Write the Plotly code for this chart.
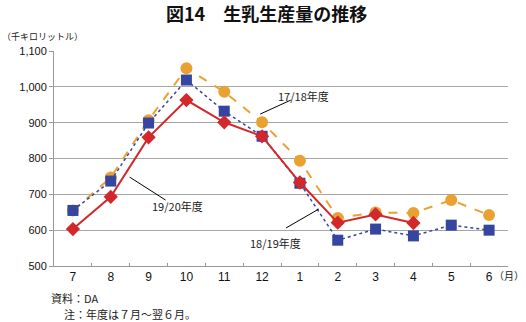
import plotly.graph_objects as go

months = ["7", "8", "9", "10", "11", "12", "1", "2", "3", "4", "5", "6"]
fy_17_18 = [655, 747, 907, 1052, 986, 901, 794, 634, 649, 648, 684, 642]
fy_18_19 = [655, 737, 899, 1019, 932, 862, 731, 572, 603, 584, 614, 600]
fy_19_20 = [603, 693, 859, 963, 901, 862, 733, 621, 644, 620]

FONT = "Noto Sans CJK JP"
NUM_FONT = "Liberation Sans"
ORANGE = "#E9A232"
BLUE = "#3545A0"
RED = "#D2282B"

fig = go.Figure()
fig.add_trace(go.Scatter(
    x=months, y=fy_17_18, mode="lines+markers", name="17/18年度",
    line=dict(color=ORANGE, width=2, dash="dash"),
    marker=dict(symbol="circle", size=12, color=ORANGE),
))
fig.add_trace(go.Scatter(
    x=months, y=fy_18_19, mode="lines+markers", name="18/19年度",
    line=dict(color=BLUE, width=1.5, dash="dot"),
    marker=dict(symbol="square", size=11, color=BLUE),
))
fig.add_trace(go.Scatter(
    x=months[:len(fy_19_20)], y=fy_19_20, mode="lines+markers", name="19/20年度",
    line=dict(color=RED, width=2),
    marker=dict(symbol="diamond", size=11, color=RED),
))

# leader lines from series labels to their lines
leaders = [
    (4.95, 924, 5.76, 963),
    (1.50, 748, 2.45, 684),
    (5.63, 606, 6.50, 659),
]
for x0, y0, x1, y1 in leaders:
    fig.add_shape(type="line", xref="x", yref="y", x0=x0, y0=y0, x1=x1, y1=y1,
                  line=dict(color="black", width=1))

labels = [
    ("17/18年度", 5.37, 974),
    ("19/20年度", 2.03, 667),
    ("18/19年度", 4.63, 564),
]
annotations = [
    dict(text=t, x=x, y=y, xref="x", yref="y", showarrow=False,
         xanchor="left", yanchor="middle", font=dict(size=11, color="#222"))
    for t, x, y in labels
]
annotations += [
    dict(text="<b>図14　生乳生産量の推移</b>", x=266, y=13, xref="paper", yref="paper",
         showarrow=False, font=dict(size=18, color="#111")),
    dict(text="（千キロリットル）", x=0, y=37, xref="paper", yref="paper",
         showarrow=False, xanchor="left", font=dict(size=9, color="#222")),
    dict(text="（月）", x=526, y=275, xref="paper", yref="paper",
         showarrow=False, xanchor="right", font=dict(size=10, color="#222")),
    dict(text="資料：DA", x=49, y=298, xref="paper", yref="paper",
         showarrow=False, xanchor="left", font=dict(size=11, color="#222")),
    dict(text="注：年度は７月～翌６月。", x=62, y=314, xref="paper", yref="paper",
         showarrow=False, xanchor="left", font=dict(size=11, color="#222")),
]

W, H = 526, 322
ML, MR, MT, MB = 54, 18, 51, 56
# convert the pixel-positioned paper annotations into paper fractions
pw, ph = W - ML - MR, H - MT - MB
for a in annotations:
    if a["xref"] == "paper":
        a["x"] = (a["x"] - ML) / pw
        a["y"] = 1 - (a["y"] - MT) / ph
        a["yanchor"] = "middle"

fig.update_layout(
    width=W, height=H,
    margin=dict(l=ML, r=MR, t=MT, b=MB),
    paper_bgcolor="white", plot_bgcolor="white",
    showlegend=False,
    font=dict(family=FONT, size=11, color="#222"),
    annotations=annotations,
    xaxis=dict(
        type="category", range=[-0.5, 11.5],
        showgrid=False, showline=True, linecolor="#999", linewidth=1,
        ticks="inside", tickson="boundaries", ticklen=3, tickcolor="#999",
        tickfont=dict(family=NUM_FONT, size=12, color="#111"),
    ),
    yaxis=dict(
        range=[500, 1100], dtick=100, tickformat=",",
        showgrid=True, gridcolor="#a6a6a6", gridwidth=1,
        showline=True, linecolor="#999", linewidth=1,
        ticks="outside", ticklen=4, tickcolor="#999",
        tickfont=dict(family=NUM_FONT, size=11, color="#111"), zeroline=False,
    ),
)

fig.write_html("out.html")
